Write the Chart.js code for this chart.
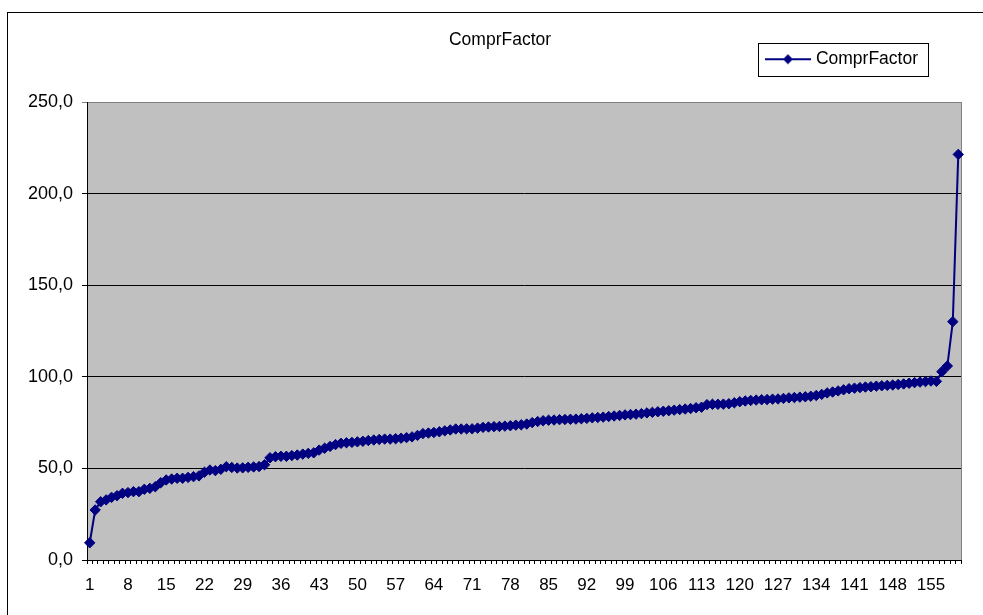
<!DOCTYPE html>
<html>
<head>
<meta charset="utf-8">
<style>
  html, body { margin: 0; padding: 0; background: #ffffff; }
  #wrap { position: relative; width: 983px; height: 615px; overflow: hidden; }
  canvas { display: block; }
</style>
<script src="https://cdn.jsdelivr.net/npm/chart.js@4/dist/chart.umd.min.js"></script>
</head>
<body>
<div id="wrap"><canvas id="c" width="983" height="615"></canvas></div>
<script>
// ---- data ----
const categories = [
  "1","2","3","4","5","6","7","8","9","10","11","12","13","14","15","16","17","18","19","20",
  "21","22","23","24","25","26","27","28","29","30","31","32","33","34","35","36","37","38","39","40",
  "41","42","43","44","45","46","47","48","49","50","51","52","53","54","55","56","57","58","59","60",
  "61","62","63","64","65","66","67","68","69","70","71","72","73","74","75","76","77","78","79","80",
  "81","82","83","84","85","86","87","88","89","90","91","92","93","94","95","96","97","98","99","100",
  "101","102","103","104","105","106","107","108","109","110","111","112","113","114","115","116","117","118","119","120",
  "121","122","123","124","125","126","127","128","129","130","131","132","133","134","135","136","137","138","139","140",
  "141","142","143","144","145","146","147","148","149","150","151","152","153","154","155","156","157","158","159","160"
];
const comprFactor = [
  9.4, 27.3, 31.8, 32.8, 34.2, 35.1, 36.4, 36.8, 37.3, 37.3,
  38.6, 39.1, 40.0, 42.2, 43.7, 44.2, 44.6, 44.6, 45.1, 45.5,
  45.9, 47.9, 49.1, 48.8, 49.5, 50.9, 50.5, 50.2, 50.3, 50.6,
  50.8, 51.0, 52.0, 55.8, 56.4, 56.6, 56.6, 57.0, 57.3, 57.8,
  58.2, 58.5, 60.0, 61.0, 62.0, 63.0, 63.7, 64.0, 64.2, 64.5,
  64.8, 65.2, 65.5, 65.8, 66.0, 66.0, 66.2, 66.5, 66.8, 67.2,
  68.0, 69.0, 69.3, 69.6, 70.0, 70.5, 71.0, 71.5, 71.5, 71.6,
  71.6, 72.0, 72.4, 72.6, 72.8, 72.9, 73.1, 73.3, 73.6, 73.8,
  74.2, 75.0, 75.6, 76.0, 76.3, 76.4, 76.6, 76.7, 76.8, 76.9,
  77.1, 77.3, 77.6, 77.8, 78.0, 78.3, 78.6, 78.9, 79.2, 79.4,
  79.6, 79.9, 80.3, 80.6, 80.9, 81.2, 81.5, 81.8, 82.1, 82.4,
  82.7, 83.1, 83.4, 84.8, 85.0, 85.0, 85.1, 85.3, 85.8, 86.4,
  86.8, 87.1, 87.3, 87.5, 87.6, 87.8, 87.9, 88.2, 88.5, 88.7,
  88.9, 89.1, 89.4, 89.8, 90.4, 91.2, 91.7, 92.3, 92.9, 93.5,
  93.8, 94.1, 94.4, 94.6, 94.9, 95.1, 95.3, 95.5, 95.8, 96.1,
  96.5, 96.8, 97.1, 97.4, 97.7, 97.5, 102.8, 105.9, 130.1, 221.4
];
const xTickLabels = ["1","8","15","22","29","36","43","50","57","64","71","78","85","92","99","106","113","120","127","134","141","148","155"];
const yTickLabels = ["0,0","50,0","100,0","150,0","200,0","250,0"];
const seriesName = "ComprFactor";
const chartTitle = "ComprFactor";

// ---- styling ----
const NAVY = "#000080";
const FONT = "'Liberation Sans', Arial, Helvetica, sans-serif";
Chart.defaults.font.family = FONT;
Chart.defaults.color = "#000000";

// legend marker: line with a diamond, like the spreadsheet legend
function legendMarker() {
  const c = document.createElement("canvas");
  c.width = 46; c.height = 12;
  const g = c.getContext("2d");
  g.strokeStyle = NAVY; g.lineWidth = 2;
  g.beginPath(); g.moveTo(0, 6); g.lineTo(46, 6); g.stroke();
  g.fillStyle = NAVY;
  g.beginPath(); g.moveTo(23 - 5, 6); g.lineTo(23, 1); g.lineTo(23 + 5, 6); g.lineTo(23, 11); g.closePath(); g.fill();
  return c;
}
const markerImg = legendMarker();

const TITLE_TOP = 29.5;
const LEGEND_TOP = 40.5;
const LEGEND_RIGHT = 928;

const decor = {
  id: "decor",
  afterLayout(chart) {
    const tb = chart.titleBlock;
    if (tb) {
      const h = tb.bottom - tb.top;
      tb.top = TITLE_TOP; tb.bottom = TITLE_TOP + h;
      tb.left = 0; tb.right = 1000;
    }
    const lg = chart.legend;
    if (lg) {
      const h = lg.bottom - lg.top;
      lg.top = LEGEND_TOP; lg.bottom = LEGEND_TOP + h;
      lg.right = LEGEND_RIGHT;
    }
  },
  beforeDraw(chart) {
    const ctx = chart.ctx;
    const a = chart.chartArea;
    ctx.save();
    // outer chart border
    ctx.strokeStyle = "#000000";
    ctx.lineWidth = 1;
    ctx.strokeRect(7.5, 12.5, 1200, 1200);
    // plot area background and gray frame
    ctx.fillStyle = "#C0C0C0";
    ctx.fillRect(a.left, a.top, a.right - a.left, a.bottom - a.top);
    ctx.strokeStyle = "#808080";
    ctx.strokeRect(a.left + 0.5, a.top + 0.5, a.right - a.left, a.bottom - a.top);
    ctx.restore();
  },
  afterDraw(chart) {
    const lg = chart.legend;
    if (!lg || !lg.lineWidths) return;
    const ctx = chart.ctx;
    const x0 = Math.round(lg.right - lg.lineWidths[0] - 10.5) + 0.5;
    const x1 = Math.round(lg.right) + 0.5;
    ctx.save();
    ctx.strokeStyle = "#000000";
    ctx.lineWidth = 1;
    ctx.strokeRect(x0, 43.5, x1 - x0, 33);
    ctx.restore();
  }
};

new Chart(document.getElementById("c"), {
  type: "line",
  data: {
    labels: categories,
    datasets: [{
      label: seriesName,
      data: comprFactor,
      borderColor: NAVY,
      backgroundColor: NAVY,
      borderWidth: 2,
      pointStyle: "rectRot",
      pointRadius: 5.2,
      pointBorderWidth: 1,
      pointBackgroundColor: NAVY,
      pointBorderColor: NAVY,
      tension: 0,
      fill: false,
      clip: 10
    }]
  },
  options: {
    responsive: false,
    animation: false,
    devicePixelRatio: 1,
    layout: { padding: { left: 0, right: 22, top: 0, bottom: 0 } },
    plugins: {
      title: {
        display: true,
        text: chartTitle,
        color: "#000000",
        font: { size: 17.5, weight: "normal" },
        padding: { top: 0, bottom: 43.5 }
      },
      legend: {
        display: true,
        position: "top",
        align: "end",
        labels: {
          color: "#000000",
          font: { size: 17.5 },
          usePointStyle: true,
          pointStyleWidth: 38.5,
          padding: 10,
          generateLabels(chart) {
            return chart.data.datasets.map((ds, i) => ({
              text: ds.label,
              fontColor: "#000000",
              pointStyle: markerImg,
              fillStyle: NAVY,
              strokeStyle: NAVY,
              lineWidth: 0,
              hidden: false,
              datasetIndex: i
            }));
          }
        }
      },
      tooltip: { enabled: false }
    },
    scales: {
      x: {
        type: "category",
        offset: true,
        afterFit(scale) { scale.height = 55; },
        grid: {
          display: true,
          drawOnChartArea: false,
          drawTicks: true,
          tickLength: 4,
          offset: true,
          color: "#000000",
          lineWidth: 1
        },
        border: { display: true, color: "#000000", width: 1 },
        ticks: {
          autoSkip: false,
          maxRotation: 0,
          minRotation: 0,
          padding: 11,
          color: "#000000",
          font: { size: 17 },
          callback(value) {
            const lab = this.getLabelForValue(value);
            return xTickLabels.includes(lab) ? lab : "";
          }
        }
      },
      y: {
        min: 0,
        max: 250,
        afterFit(scale) { scale.width = 87; },
        grid: {
          display: true,
          drawTicks: true,
          tickLength: 5,
          color(ctx) { return ctx.tick && ctx.tick.value === 250 ? "#808080" : "#000000"; },
          lineWidth: 1
        },
        border: { display: true, color: "#000000", width: 1 },
        ticks: {
          stepSize: 50,
          padding: 9,
          color: "#000000",
          font: { size: 18 },
          callback(value, index) { return yTickLabels[index]; }
        }
      }
    }
  },
  plugins: [decor]
});
</script>
</body>
</html>
